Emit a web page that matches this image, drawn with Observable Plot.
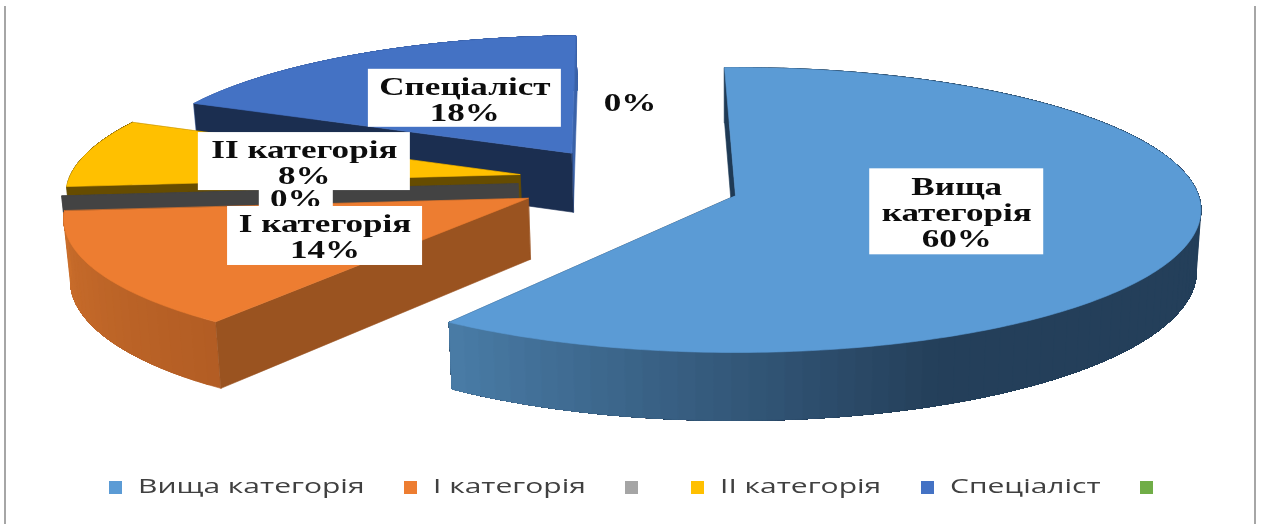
<!DOCTYPE html>
<html>
<head>
<meta charset="utf-8">
<script src="https://cdn.jsdelivr.net/npm/d3@7"></script>
<script src="https://cdn.jsdelivr.net/npm/@observablehq/plot@0.6"></script>
<style>
html,body{margin:0;padding:0;background:#fff;overflow:hidden}
#page{position:relative;width:1265px;height:524px;overflow:hidden}
#frame{position:absolute;left:4px;top:6px;width:1248px;height:530px;border-left:2px solid #a6a6a6;border-right:2px solid #a6a6a6}
#chart{position:absolute;left:0;top:0}
#chart svg{display:block;filter:blur(.45px)}
#legend{position:absolute;left:0;top:465px;width:1265px;height:59px;font-family:"Open Sans",sans-serif;font-size:20px;color:#404040;filter:blur(.35px)}
#legend i{position:absolute;top:16px;width:13px;height:13px}
#legend span{position:absolute;top:7px;white-space:nowrap;transform:scaleX(1.5);transform-origin:left center}
</style>
</head>
<body>
<div id="page"><div id="frame"></div><div id="chart"></div><div id="legend"></div></div>
<script>
// Data
const categories = ["Вища категорія", "І категорія", "", "ІІ категорія", "Спеціаліст", ""];
const labelNames = ["Вища\nкатегорія", "І категорія", "", "ІІ категорія", "Спеціаліст", ""];
const values = [60, 14, 0, 8, 18, 0];

// Colours
const topColors = ["#5B9BD5", "#ED7D31", "#A5A5A5", "#FFC000", "#4472C4", "#70AD47"];
const cutColors = ["#1f3a55", "#9a5320", "#434343", "#664c00", "#1b2e50", "#3f6b2a"];
const backColors = ["#1f3a55", "#9a5320", "#434343", "#664c00", "#3a62a8", "#3f6b2a"];
const arcNear = ["#4a7da8", "#b35d24", "#434343", "#664c00", "#3a62a8", "#3f6b2a"];
const arcFar = ["#243f5a", "#cc6f2c", "#434343", "#664c00", "#3a62a8", "#3f6b2a"];

// Projection layout of the exploded tilted pie
const W = 1265, H = 465;
const cx = 735, cy = 195, R = 463, Ry = 141, k = 0.1018, depth = 61, rotation = -1.5;
const explode = [[0, 0], [-0.447, -0.02], [-0.474, 0.085], [-0.473, 0.151], [-0.365, 0.31], [-0.231, 0.2]];
const sliceRadius = [1, 0.99, 0.985, 0.985, 0.97, 1];
const startInset = [0, 1.5, 0, 0, 0, 0];
const labelRadius = 0.5;
const labelNudge = [[-4, -4], [8, 1], [9, 8], [6, -2], [7, -2], [0, -2]];
const boxSize = [[174, 86], [195, 59], [74, 29], [212, 58], [193, 58], [0, 0]];
const drawOrder = [4, 3, 2, 1, 0];
const labelOrder = [5, 0, 4, 2, 3, 1];
const legendX = [109, 404, 625, 691, 921, 1140];
const textStretch = 1.35;

const rad = a => a * Math.PI / 180;
function proj(U, V, bottom) {
  const w = 1 + k * V, s = bottom ? 0.99 : 1;
  return {x: cx + R * s * U / w, y: cy - Ry * V / w + (bottom ? depth / w : 0)};
}
const cum = d3.cumsum(values);
const slices = values.map((v, i) => {
  const a1 = rotation + cum[i] * 3.6, a0 = a1 - v * 3.6;
  return {i, a0, a1, eu: explode[i][0], ev: explode[i][1], r: sliceRadius[i]};
});
const pt = (s, a, f, bottom) => proj(s.eu + f * s.r * Math.sin(rad(a)), s.ev + f * s.r * Math.cos(rad(a)), bottom);

const polys = [];
let id = 0;
function addPoly(points, color) {
  const z = id++;
  for (const p of points) polys.push({x: p.x, y: p.y, z, color});
}
const cutWall = (s, a, color) => addPoly([pt(s, a, 0), pt(s, a, 1), pt(s, a, 1, true), pt(s, a, 0, true)], color);
for (const i of drawOrder) {
  const s = slices[i];
  const a0 = s.a0 + startInset[i], a1 = s.a1;
  cutWall(s, a1, backColors[i]);
  if (a1 > a0) {
    // outer wall: each shaded band runs to the end of the arc and is overpainted by the next
    const step = 2, n = Math.round((a1 - a0) / step);
    const mix = d3.interpolateRgb(arcFar[i], arcNear[i]);
    const band = j => a0 + (a1 - a0) * j / n;
    for (let j = 0; j < n; j++) {
      const t = i === 0 ? Math.max(0, (band(j) - 156) / (a1 - 156)) : 1 - j / n;
      const top = [], bot = [];
      for (let q = j; q <= n; q++) {
        top.push(pt(s, band(q), 1));
        bot.push(pt(s, band(q), 1, true));
      }
      addPoly(top.concat(bot.reverse()), mix(t));
    }
  }
  cutWall(s, a0, cutColors[i]);
  if (a1 > a0) {
    // top surface
    const surf = [pt(s, a0, 0)];
    const m = Math.round(a1 - a0);
    for (let j = 0; j <= m; j++) surf.push(pt(s, a0 + (a1 - a0) * j / m, 1));
    addPoly(surf, topColors[i]);
  }
}

const marks = [
  Plot.line(polys, {x: "x", y: "y", z: "z", fill: "color", stroke: "color", strokeWidth: 0.6, curve: "linear-closed"})
];
for (const i of labelOrder) {
  const s = slices[i];
  const mid = (s.a0 + s.a1) / 2;
  const c = pt(s, mid, labelRadius / s.r);
  const lx = c.x + labelNudge[i][0], ly = c.y + labelNudge[i][1];
  const [bw, bh] = boxSize[i];
  if (bw) marks.push(Plot.rect([{x1: lx - bw / 2, x2: lx + bw / 2, y1: ly - bh / 2, y2: ly + bh / 2}],
    {x1: "x1", x2: "x2", y1: "y1", y2: "y2", fill: "white"}));
  const text = (labelNames[i] ? labelNames[i] + "\n" : "") + values[i] + "%";
  marks.push(Plot.text([{x: lx, y: ly + 1, text}], {
    x: "x", y: "y", text: "text", fontFamily: "Liberation Serif", fontWeight: "bold", fontSize: 26,
    lineHeight: 1, fill: "#0d0d0d", lineAnchor: "middle", ariaLabel: "data-label"
  }));
}

const chart = Plot.plot({
  width: W, height: H, margin: 0,
  x: {domain: [0, W], range: [0, W], axis: null},
  y: {domain: [0, H], range: [0, H], axis: null},
  color: {type: "identity"},
  style: {background: "transparent"},
  marks
});
document.getElementById("chart").appendChild(chart);

// The labels of the picture are horizontally stretched Times-like bold
chart.querySelectorAll("text").forEach(t => {
  const b = t.getBBox(), c = b.x + b.width / 2, old = t.getAttribute("transform") || "";
  t.setAttribute("transform", `${old} translate(${c},0) scale(${textStretch},1) translate(${-c},0)`);
});

const legend = document.getElementById("legend");
categories.forEach((name, i) => {
  const sw = document.createElement("i");
  sw.style.left = legendX[i] + "px";
  sw.style.background = topColors[i];
  legend.appendChild(sw);
  if (name) {
    const t = document.createElement("span");
    t.textContent = name;
    t.style.left = (legendX[i] + 29) + "px";
    legend.appendChild(t);
  }
});
</script>
</body>
</html>
